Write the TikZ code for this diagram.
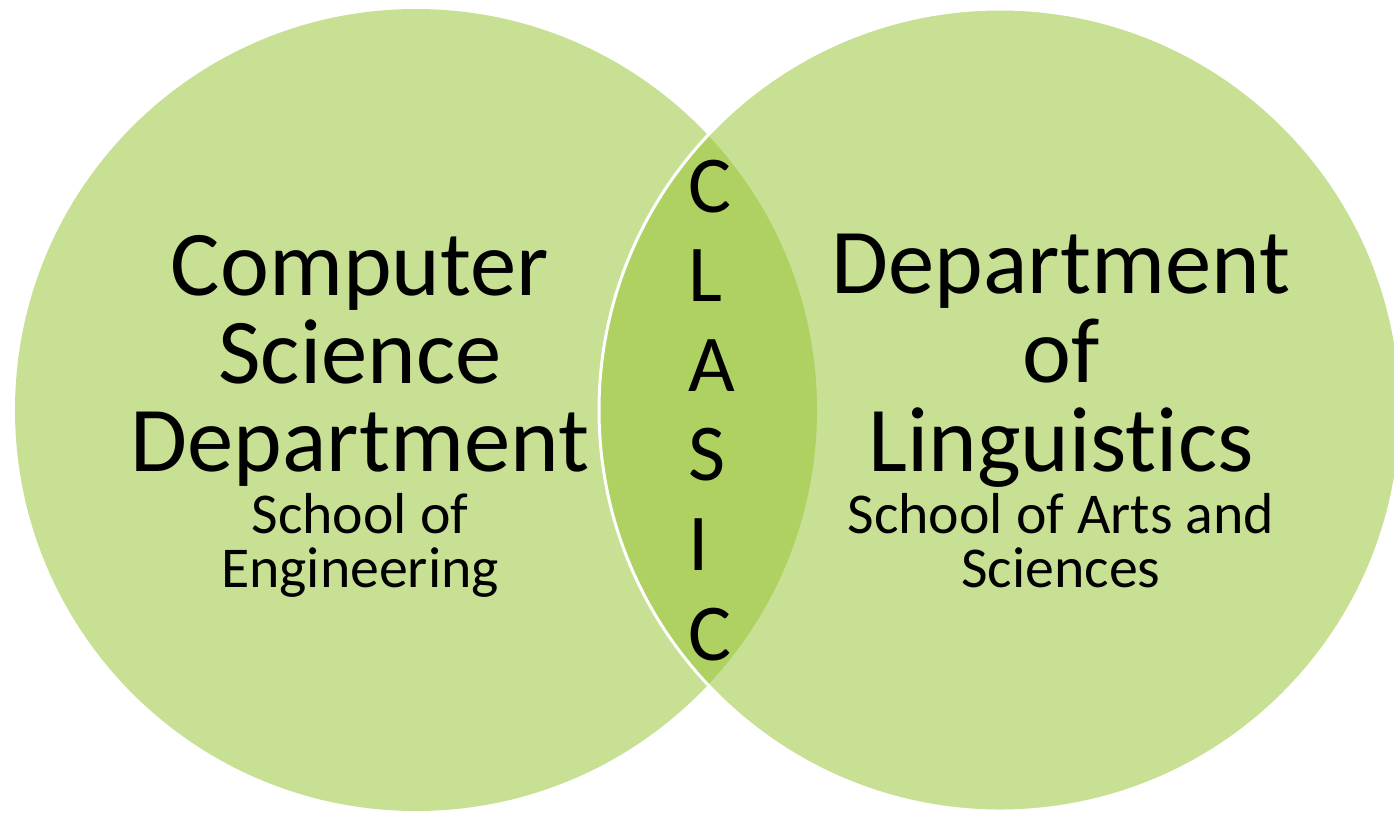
\documentclass[tikz,border=0pt]{standalone}
\usepackage{fontspec}
\setmainfont{Carlito}[Ligatures=NoCommon]
\definecolor{venn}{HTML}{C8E094}
\definecolor{overlap}{HTML}{AED162}
\tikzset{
  big/.style={anchor=base, inner sep=0pt, font=\fontsize{93}{93}\selectfont},
  small/.style={anchor=base, inner sep=0pt, font=\fontsize{58}{58}\selectfont},
  letter/.style={anchor=base west, inner sep=0pt, font=\fontsize{81}{81}\selectfont}
}
\begin{document}
\begin{tikzpicture}[x=1bp, y=-1bp]
  \useasboundingbox (0,0) rectangle (1394,814);
  % Circles
  \coordinate (cs) at (416,410);
  \coordinate (ling) at (1000,410);
  \fill[venn] (cs) circle[radius=401bp];
  \fill[venn] (ling) circle[radius=401bp];
  % Overlap
  \begin{scope}
    \clip (cs) circle[radius=401bp];
    \fill[overlap] (ling) circle[radius=401bp];
  \end{scope}
  \draw[white, line width=3bp] (ling) circle[radius=401bp];
  % Left circle
  \node[big] (cs1) at (360,295) {Computer};
  \node[big] (cs2) at (360,383) {Science};
  \node[big] (cs3) at (360,471) {Department};
  \node[small] (cs4) at (360,533) {School of};
  \node[small] (cs5) at (360,587) {Engineering};
  % Right circle
  \node[big] (ling1) at (1061,293) {Department};
  \node[big] (ling2) at (1061,382) {of};
  \node[big] (ling3) at (1061,471) {Linguistics};
  \node[small] (ling4) at (1061,533) {School of Arts and};
  \node[small] (ling5) at (1061,587) {Sciences};
  % Centre
  \foreach \l [count=\i] in {C,L,A,S,I,C} {
    \node[letter] (clasic\i) at (688,{212+89.6*(\i-1)}) {\l};
  }
\end{tikzpicture}
\end{document}
